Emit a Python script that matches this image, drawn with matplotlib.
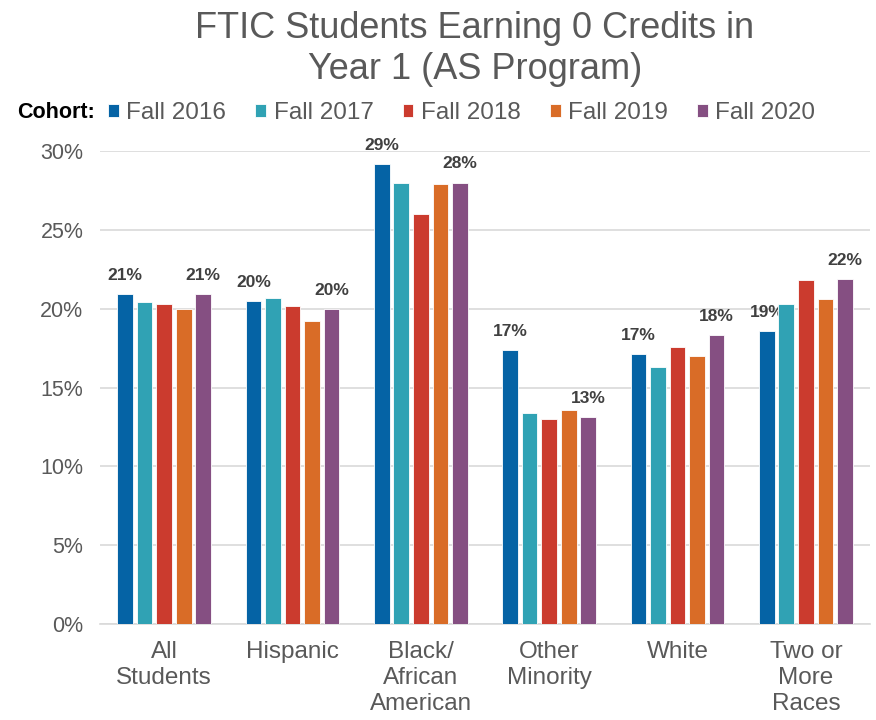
import matplotlib
matplotlib.use("Agg")
import matplotlib.pyplot as plt
import numpy as np

categories = ["All\nStudents", "Hispanic", "Black/\nAfrican\nAmerican", "Other\nMinority", "White", "Two or\nMore\nRaces"]
cohorts = ["Fall 2016", "Fall 2017", "Fall 2018", "Fall 2019", "Fall 2020"]
fall_2016 = [20.9, 20.5, 29.2, 17.4, 17.1, 18.6]
fall_2017 = [20.4, 20.7, 28.0, 13.4, 16.3, 20.3]
fall_2018 = [20.3, 20.2, 26.0, 13.0, 17.6, 21.8]
fall_2019 = [20.0, 19.2, 27.9, 13.6, 17.0, 20.6]
fall_2020 = [20.9, 20.0, 28.0, 13.1, 18.3, 21.9]
series = [fall_2016, fall_2017, fall_2018, fall_2019, fall_2020]
colors = ["#0563A5", "#30A2B4", "#CB3B2E", "#D96C27", "#854F82"]
yticks = [0, 5, 10, 15, 20, 25, 30]

plt.rcParams['font.family'] = ['Liberation Sans', 'DejaVu Sans']

fig = plt.figure(figsize=(8.76, 7.2), dpi=100)
ax = fig.add_axes([100/876, 1-624/720, 770/876, (624-151)/720])

x = np.arange(len(categories))
pitch = 0.152
width = 0.122
containers = []
for i, (vals, c) in enumerate(zip(series, colors)):
    pos = x + (i - 2) * pitch
    bc = ax.bar(pos, vals, width=width, color=c, edgecolor="white", linewidth=0.6, zorder=3, label=cohorts[i])
    containers.append(bc)
    if i in (0, 4):
        for px, v in zip(pos, vals):
            ax.annotate(f"{v:.0f}%", (px, v), xytext=(0, 8), textcoords="offset points",
                        ha="center", va="bottom", fontsize=12.5, fontweight="bold",
                        color="#404040", annotation_clip=False)

ax.set_xlim(-0.5, len(categories) - 0.5)
ax.set_ylim(0, 30)
ax.set_yticks(yticks)
ax.set_yticklabels([f"{t}%" for t in yticks], fontsize=15.5, color="#595959")
ax.set_xticks(x)
ax.set_xticklabels(categories, fontsize=17.5, color="#595959", linespacing=1.25)
ax.tick_params(axis="both", length=0)
ax.tick_params(axis="y", pad=12)
ax.tick_params(axis="x", pad=12)
ax.grid(axis="y", color="#D9D9D9", linewidth=1.2, zorder=0)
for s in ["top", "right", "left"]:
    ax.spines[s].set_visible(False)
ax.spines["bottom"].set_color("#D9D9D9")
ax.spines["bottom"].set_linewidth(1.2)

fig.text(475/876, 1-11/720, "FTIC Students Earning 0 Credits in\nYear 1 (AS Program)",
         ha="center", va="top", fontsize=26, color="#595959", linespacing=1.22)

fig.text(17/876, 1-113/720, "Cohort:", ha="left", va="center", fontsize=15.5,
         fontweight="bold", color="black")
leg = fig.legend(handles=containers, labels=cohorts, loc="center left",
                 bbox_to_anchor=(108/876, 1-113/720), ncol=5, frameon=False,
                 fontsize=17.5, handlelength=0.45, handleheight=0.45, handletextpad=0.3,
                 columnspacing=1.2, borderaxespad=0, borderpad=0)
for t in leg.get_texts():
    t.set_color("#595959")

fig.savefig("out.png", dpi=100, facecolor="white")
